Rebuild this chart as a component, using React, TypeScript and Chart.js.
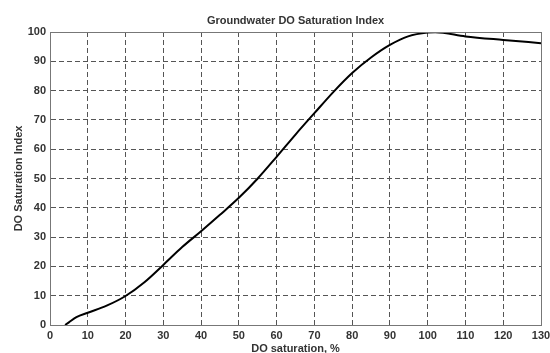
import React, { useEffect, useRef } from "react";
import { Chart, registerables } from "chart.js";

Chart.register(...registerables);

const chartTitle = "Groundwater DO Saturation Index";
const doSaturation = [4, 5, 7, 10, 15, 20, 25, 30, 35, 40, 45, 50, 55, 60, 65, 70, 75, 80, 85, 90, 95, 100, 102, 110, 120, 130];
const saturationIndex = [0, 0.9, 2.7, 4.2, 6.6, 9.9, 14.6, 20.5, 26.6, 32.0, 37.6, 43.4, 50, 57.4, 65, 72.3, 79.5, 86, 91.3, 95.6, 98.6, 99.8, 99.9, 98.5, 97.3, 96.2];
const xTicks = [0, 10, 20, 30, 40, 50, 60, 70, 80, 90, 100, 110, 120, 130];
const yTicks = [0, 10, 20, 30, 40, 50, 60, 70, 80, 90, 100];

export default function App() {
  const ref = useRef<HTMLCanvasElement | null>(null);
  useEffect(() => {
    document.body.style.margin = "0";
    const ctx = ref.current!;
    const font = "Arial, 'Liberation Sans', sans-serif";
    const chart = new Chart(ctx, {
      type: "line",
      data: {
        datasets: [
          {
            data: doSaturation.map((x, i) => ({ x, y: saturationIndex[i] })),
            borderColor: "#000",
            borderWidth: 2,
            pointRadius: 0,
            cubicInterpolationMode: "monotone",
            fill: false,
          },
        ],
      },
      options: {
        animation: false,
        responsive: false,
        maintainAspectRatio: false,
        layout: { padding: { left: 0, right: 0, top: 32, bottom: 0 } },
        plugins: {
          legend: { display: false },
          tooltip: { enabled: false },
          title: { display: false },
        },
        scales: {
          x: {
            type: "linear",
            min: 0,
            max: 130,
            afterBuildTicks: (s: any) => { s.ticks = xTicks.map((v) => ({ value: v })); },
            afterFit: (s: any) => { s.height = 28; s.paddingRight = 9; s.paddingLeft = 0; },
            grid: { color: "#555", tickLength: 0, drawTicks: false },
            border: { display: true, color: "#777", width: 1, dash: [5, 3] },
            ticks: { color: "#333", font: { family: font, size: 11, weight: "bold" }, padding: 4, maxRotation: 0 },
            title: { display: true, text: "DO saturation, %", color: "#333", font: { family: font, size: 11, weight: "bold" }, padding: { top: 0, bottom: -3 } },
          },
          y: {
            type: "linear",
            min: 0,
            max: 100,
            afterBuildTicks: (s: any) => { s.ticks = yTicks.map((v) => ({ value: v })); },
            afterFit: (s: any) => { s.width = 50; },
            grid: { color: "#555", tickLength: 0, drawTicks: false },
            border: { display: true, color: "#777", width: 1, dash: [5, 3] },
            ticks: { color: "#333", font: { family: font, size: 11, weight: "bold" }, padding: 4 },
            title: { display: true, text: "DO Saturation Index", color: "#333", font: { family: font, size: 11, weight: "bold" }, padding: { top: 12, bottom: 0 } },
          },
        },
      },
      plugins: [
        {
          id: "frameAndTitle",
          afterDraw(c: any) {
            const { left, right, top, bottom } = c.chartArea;
            const g = c.ctx;
            g.save();
            g.strokeStyle = "#777";
            g.lineWidth = 1;
            g.setLineDash([]);
            g.strokeRect(Math.round(left) + 0.5, Math.round(top) + 0.5, Math.round(right - left), Math.round(bottom - top));
            g.fillStyle = "#333";
            g.font = "bold 11px " + font;
            g.textAlign = "center";
            g.textBaseline = "middle";
            g.fillText(chartTitle, (left + right) / 2, 21);
            g.restore();
          },
        },
      ],
    } as any);
    return () => chart.destroy();
  }, []);
  return <canvas ref={ref} width={550} height={353} style={{ display: "block" }} />;
}
